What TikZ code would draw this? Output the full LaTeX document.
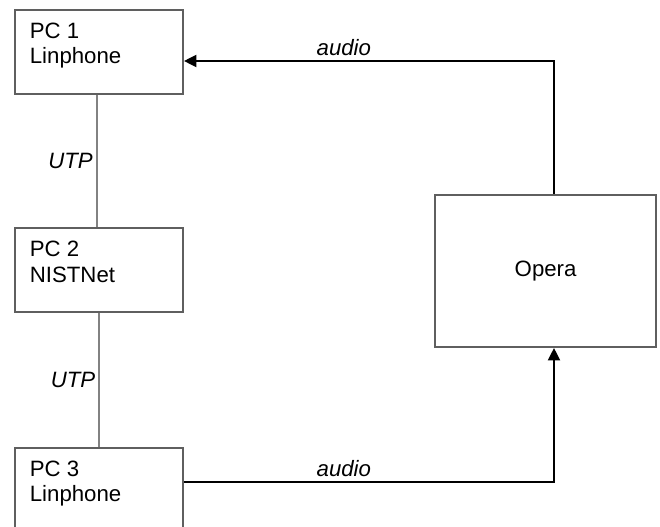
\documentclass[tikz,border=0pt]{standalone}
\usepackage{fontspec}
\setmainfont{Liberation Sans}
\usepackage{tikz}
\usetikzlibrary{arrows.meta,positioning}
\definecolor{boxgray}{RGB}{95,95,95}
\definecolor{utpgray}{RGB}{130,130,130}

\begin{document}
\begin{tikzpicture}[
  font=\fontsize{15.8}{18}\selectfont,
  pcbox/.style={draw=boxgray,line width=1.4pt,minimum width=4.2cm,minimum height=2.1cm,inner sep=0pt},
  pctext/.style={anchor=north west,align=left,inner sep=0pt,xshift=0.39cm,yshift=-0.34cm},
  utp/.style={draw=utpgray,line width=1.4pt},
  audio/.style={draw=black,line width=1.5pt,-{Triangle[length=0.31cm,width=0.3cm]}},
  lbl/.style={font=\fontsize{15.8}{18}\selectfont\itshape}
]
  \useasboundingbox (0,0) rectangle (16.5,-13.175);
  \clip (0,0) rectangle (16.5,-13.175);
  \node[pcbox,label={[pctext]north west:{PC 1\\Linphone}}] (pc1) at (2.475,-1.29) {};
  \node[pcbox,label={[pctext]north west:{PC 2\\NISTNet}}] (pc2) at (2.475,-6.76) {};
  \node[pcbox,label={[pctext]north west:{PC 3\\Linphone}}] (pc3) at (2.475,-12.25) {};
  \node[pcbox,minimum width=5.525cm,minimum height=3.8cm] (opera) at (13.64,-6.775) {Opera};

  \draw[utp] ([xshift=-0.06cm]pc1.south) -- node[lbl,left,inner sep=2pt] (utpa) {UTP} ([xshift=-0.06cm]pc2.north);
  \draw[utp] (pc2.south) -- node[lbl,left,inner sep=2pt] (utpb) {UTP} (pc3.north);
  \draw[audio] ([xshift=0.21cm]opera.north) |- ([yshift=-0.235cm]pc1.east)
    node[lbl,above,pos=0.784] (audioa) {audio};
  \draw[audio] ([yshift=0.2cm]pc3.east) -| ([xshift=0.21cm]opera.south)
    node[lbl,above,pos=0.216] (audiob) {audio};
\end{tikzpicture}
\end{document}
